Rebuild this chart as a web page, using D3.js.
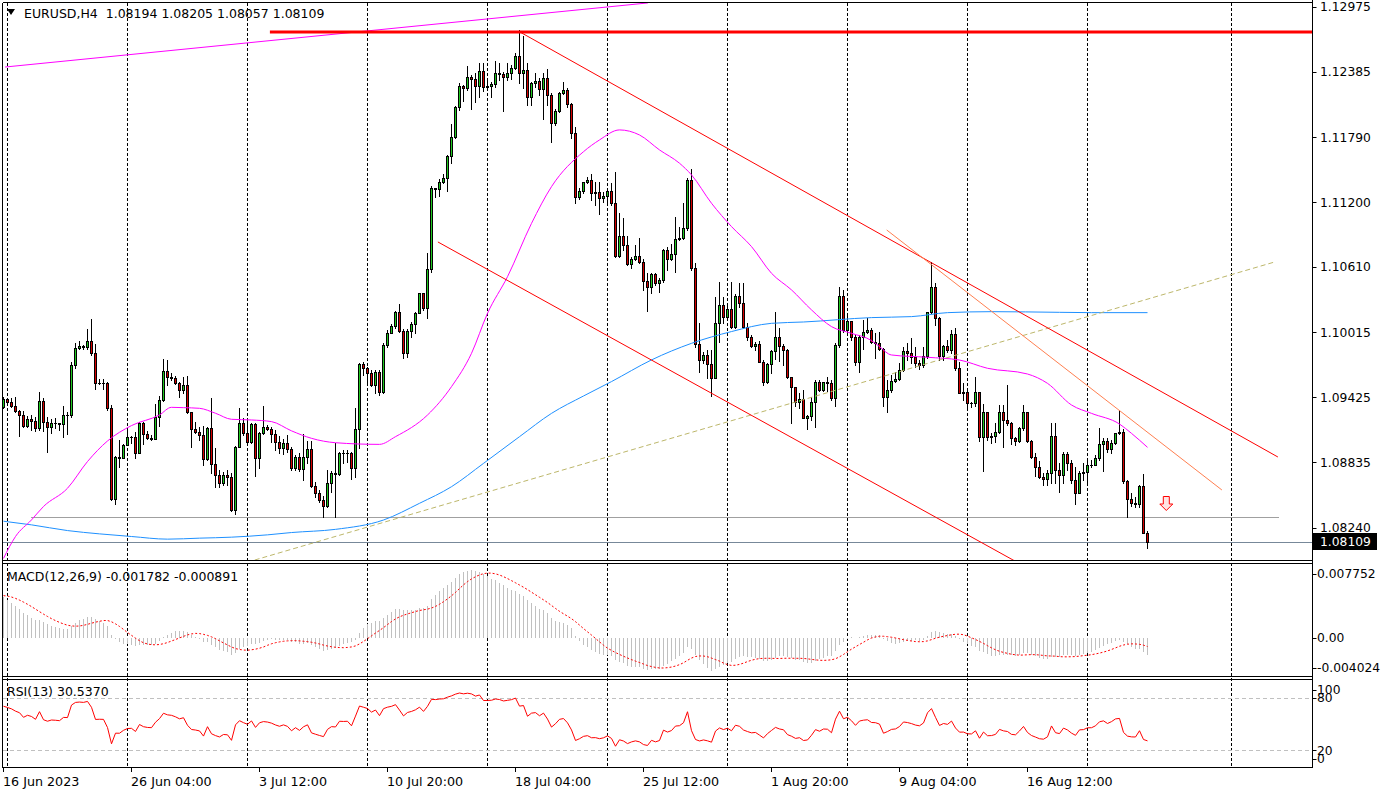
<!DOCTYPE html>
<html><head><meta charset="utf-8">
<script src="https://cdn.jsdelivr.net/npm/d3@7"></script>
<style>
body{margin:0;background:#fff}
svg{display:block}
text{font-family:'DejaVu Sans',sans-serif;fill:#000;white-space:pre}
</style></head>
<body><svg id="c" width="1384" height="795"></svg>
<script>
// ---------------- DATA ----------------
const symbolLabel = "EURUSD,H4";
const titleOHLC = ["1.08194","1.08205","1.08057","1.08109"];
const firstOpen = 1.09340;
const closes = [
1.09407,1.09380,1.09350,1.09301,1.09268,1.09168,1.09232,1.09207,1.09147,1.09392,
1.09198,1.09159,1.09195,1.09189,1.09180,1.09265,1.09262,1.09719,1.09871,1.09892,
1.09886,1.09937,1.09831,1.09553,1.09559,1.09556,1.09332,1.08498,1.08880,1.08877,
1.08990,1.09062,1.09068,1.08922,1.09189,1.09092,1.09059,1.09050,1.09250,1.09401,
1.09665,1.09613,1.09598,1.09553,1.09492,1.09534,1.09295,1.09134,1.09113,1.09080,
1.08862,1.09150,1.08819,1.08719,1.08644,1.08719,1.08704,1.08401,1.08977,1.09189,
1.09098,1.09022,1.09183,1.08871,1.09098,1.09159,1.09138,1.09092,1.09016,1.08962,
1.09013,1.08956,1.08779,1.08879,1.08770,1.08885,1.08952,1.08618,1.08552,1.08491,
1.08436,1.08649,1.08739,1.08727,1.08921,1.08915,1.08921,1.08785,1.09134,1.09728,
1.09689,1.09649,1.09537,1.09658,1.09476,1.09901,1.10013,1.10074,1.10204,1.10031,
1.09825,1.10028,1.10092,1.10195,1.10371,1.10234,1.10589,1.11326,1.11317,1.11386,
1.11417,1.11620,1.11796,1.12063,1.12260,1.12235,1.12336,1.12317,1.12260,1.12396,
1.12251,1.12257,1.12275,1.12378,1.12366,1.12336,1.12378,1.12423,1.12530,1.12372,
1.12402,1.12154,1.12281,1.12302,1.12226,1.12326,1.12175,1.11923,1.12032,1.12190,
1.12220,1.12090,1.11832,1.11244,1.11302,1.11380,1.11402,1.11287,1.11290,1.11235,
1.11257,1.11305,1.11190,1.10714,1.10893,1.10814,1.10638,1.10684,1.10711,1.10653,
1.10486,1.10426,1.10547,1.10462,1.10493,1.10765,1.10687,1.10729,1.10862,1.10872,
1.10962,1.11402,1.10599,1.09910,1.09765,1.09810,1.09728,1.09604,1.10098,1.10265,
1.10159,1.10226,1.10068,1.10347,1.10286,1.10068,1.09971,1.09892,1.09907,1.09750,
1.09568,1.09725,1.09847,1.09971,1.09895,1.09856,1.09607,1.09516,1.09386,1.09407,
1.09240,1.09255,1.09386,1.09562,1.09492,1.09562,1.09553,1.09416,1.09901,1.10347,
1.10038,1.10123,1.09971,1.09750,1.09971,1.10017,1.10038,1.09925,1.09916,1.09861,
1.09431,1.09492,1.09573,1.09589,1.09673,1.09846,1.09825,1.09789,1.09740,1.09716,
1.09801,1.10198,1.10425,1.10143,1.09804,1.09892,1.09855,1.09998,1.09689,1.09467,
1.09470,1.09376,1.09370,1.09470,1.09067,1.09288,1.09067,1.09073,1.09113,1.09288,
1.09219,1.09188,1.09052,1.09031,1.09143,1.09288,1.09031,1.08879,1.08794,1.08703,
1.08679,1.08740,1.09073,1.08764,1.08718,1.08909,1.08825,1.08673,1.08558,1.08740,
1.08749,1.08809,1.08812,1.08870,1.09000,1.09031,1.08955,1.09012,1.09097,1.09113,
1.08667,1.08497,1.08461,1.08455,1.08618,1.08194,1.08109];
const highs = [
1.09426,1.09416,1.09423,1.09425,1.09310,1.09304,1.09256,1.09268,1.09250,1.09471,
1.09416,1.09244,1.09225,1.09241,1.09195,1.09347,1.09295,1.09750,1.09916,1.09937,
1.09901,1.10044,1.10137,1.09907,1.09589,1.09589,1.09568,1.09356,1.08890,1.09038,
1.09000,1.09128,1.09077,1.09113,1.09204,1.09204,1.09122,1.09083,1.09362,1.09438,
1.09771,1.09765,1.09644,1.09622,1.09568,1.09613,1.09622,1.09295,1.09204,1.09159,
1.09165,1.09159,1.09422,1.08962,1.08765,1.08750,1.08765,1.08741,1.08983,1.09325,
1.09234,1.09234,1.09195,1.09189,1.09113,1.09347,1.09174,1.09159,1.09128,1.09074,
1.09044,1.09083,1.08976,1.08900,1.08915,1.09088,1.09031,1.09031,1.08658,1.08582,
1.08527,1.08764,1.08758,1.09012,1.08930,1.08946,1.08946,1.08930,1.09331,1.09740,
1.09749,1.09704,1.09673,1.09673,1.09673,1.09916,1.10037,1.10092,1.10213,1.10274,
1.10043,1.10043,1.10113,1.10204,1.10377,1.10377,1.10735,1.11350,1.11332,1.11408,
1.11456,1.11629,1.11911,1.12075,1.12287,1.12266,1.12439,1.12357,1.12372,1.12463,
1.12463,1.12317,1.12296,1.12487,1.12463,1.12387,1.12463,1.12448,1.12560,1.12766,
1.12711,1.12463,1.12296,1.12372,1.12326,1.12378,1.12408,1.12190,1.12044,1.12205,
1.12296,1.12235,1.12099,1.11887,1.11326,1.11386,1.11426,1.11457,1.11387,1.11387,
1.11296,1.11317,1.11378,1.11472,1.11099,1.11053,1.10893,1.10705,1.10811,1.10872,
1.10681,1.10553,1.10559,1.10559,1.10508,1.10775,1.10790,1.10820,1.11069,1.10978,
1.11190,1.11417,1.11499,1.10650,1.10104,1.09841,1.09856,1.09856,1.10341,1.10477,
1.10341,1.10265,1.10477,1.10362,1.10468,1.10462,1.10098,1.09992,1.09932,1.09938,
1.09765,1.09735,1.09856,1.10198,1.10059,1.09907,1.09862,1.09613,1.09522,1.09462,
1.09492,1.09265,1.09431,1.09583,1.09583,1.09568,1.09613,1.09583,1.09916,1.10432,
1.10402,1.10189,1.10114,1.09992,1.09992,1.10129,1.10144,1.10052,1.10007,1.10022,
1.09871,1.09583,1.09628,1.09658,1.09734,1.09886,1.09916,1.09962,1.09886,1.09764,
1.09886,1.10204,1.10659,1.10462,1.10159,1.09901,1.09946,1.10037,1.10052,1.09749,
1.09558,1.09507,1.09385,1.09613,1.09476,1.09364,1.09294,1.09097,1.09188,1.09355,
1.09355,1.09537,1.09204,1.09067,1.09158,1.09355,1.09294,1.09037,1.08916,1.08849,
1.08734,1.08764,1.09188,1.09188,1.08825,1.08931,1.08931,1.08855,1.08794,1.08758,
1.08825,1.08861,1.08855,1.08900,1.09143,1.09052,1.09052,1.09037,1.09103,1.09310,
1.09134,1.08673,1.08552,1.08521,1.08627,1.08728,1.08205];
const lows = [
1.09326,1.09365,1.09341,1.09295,1.09077,1.09159,1.09159,1.09129,1.09119,1.09129,
1.09122,1.08932,1.09098,1.09144,1.09129,1.09062,1.09089,1.09250,1.09689,1.09862,
1.09868,1.09868,1.09810,1.09498,1.09547,1.09498,1.09310,1.08492,1.08453,1.08795,
1.08871,1.08990,1.09007,1.08877,1.08916,1.09001,1.09050,1.09038,1.09044,1.09165,
1.09395,1.09538,1.09583,1.09544,1.09432,1.09462,1.09280,1.08977,1.09098,1.09038,
1.08807,1.08856,1.08740,1.08613,1.08607,1.08628,1.08628,1.08395,1.08368,1.08977,
1.09083,1.08992,1.09013,1.08713,1.08780,1.09092,1.09129,1.09022,1.08947,1.08916,
1.08910,1.08932,1.08764,1.08764,1.08758,1.08673,1.08824,1.08612,1.08521,1.08476,
1.08339,1.08430,1.08567,1.08339,1.08718,1.08830,1.08839,1.08679,1.08703,1.08961,
1.09628,1.09558,1.09528,1.09461,1.09446,1.09467,1.09880,1.10007,1.10052,1.10022,
1.09780,1.09789,1.09977,1.10007,1.10189,1.10219,1.10143,1.10568,1.11250,1.11256,
1.11371,1.11305,1.11559,1.11781,1.12038,1.12123,1.12220,1.12044,1.12108,1.12160,
1.12214,1.12235,1.12154,1.12251,1.12311,1.12032,1.12311,1.12317,1.12408,1.12281,
1.12235,1.12084,1.12084,1.12251,1.12175,1.11953,1.12084,1.11750,1.11902,1.12023,
1.12184,1.12069,1.11781,1.11189,1.11226,1.11280,1.11372,1.11220,1.11175,1.11093,
1.11205,1.11196,1.11175,1.10705,1.10705,1.10765,1.10629,1.10599,1.10674,1.10644,
1.10402,1.10214,1.10371,1.10447,1.10386,1.10477,1.10583,1.10674,1.10568,1.10856,
1.10862,1.10947,1.10583,1.09886,1.09659,1.09735,1.09598,1.09437,1.09598,1.09932,
1.10098,1.10150,1.10059,1.10053,1.10250,1.10053,1.09947,1.09886,1.09856,1.09744,
1.09537,1.09553,1.09650,1.09771,1.09759,1.09719,1.09598,1.09189,1.09346,1.09325,
1.09234,1.09134,1.09219,1.09158,1.09486,1.09486,1.09486,1.09401,1.09346,1.09886,
1.10023,1.10023,1.09947,1.09719,1.09659,1.09862,1.10007,1.09916,1.09780,1.09855,
1.09346,1.09294,1.09476,1.09567,1.09583,1.09667,1.09764,1.09734,1.09704,1.09680,
1.09704,1.09780,1.10189,1.10083,1.09764,1.09764,1.09840,1.09825,1.09673,1.09461,
1.09401,1.09340,1.09340,1.09346,1.09031,1.08758,1.09037,1.09012,1.09022,1.09097,
1.08976,1.09173,1.09000,1.08991,1.09022,1.09128,1.09022,1.08870,1.08709,1.08688,
1.08627,1.08627,1.08643,1.08643,1.08567,1.08643,1.08764,1.08643,1.08455,1.08552,
1.08673,1.08643,1.08794,1.08809,1.08855,1.08758,1.08931,1.08916,1.09000,1.09091,
1.08643,1.08339,1.08436,1.08430,1.08430,1.08188,1.08057];

// moving averages (bar index -> value)
const maFastBars = [0,3,7,10,16,21,26,32,39,42,45,49,53,57,62,67,72,77,83,94,98,106,112,117,121,126,132,137,145,149,154,159,164,169,172,177,182,187,192,197,202,207,212,217,219,222,231,239,246,256,261,267,272,279,282,286];
const maFastVals = [1.07960,1.08159,1.08310,1.08432,1.08598,1.08841,1.09028,1.09168,1.09265,1.09334,1.09331,1.09325,1.09280,1.09225,1.09219,1.09204,1.09120,1.09052,1.09012,1.08997,1.09067,1.09264,1.09522,1.09825,1.10189,1.10522,1.11007,1.11341,1.11659,1.11766,1.11857,1.11811,1.11675,1.11554,1.11448,1.11190,1.10978,1.10796,1.10553,1.10402,1.10220,1.10068,1.10007,1.09941,1.09886,1.09810,1.09789,1.09764,1.09689,1.09637,1.09552,1.09355,1.09279,1.09182,1.09097,1.08970];
const maSlowBars = [0,7,16,24,32,41,49,57,66,72,83,95,104,112,120,129,137,145,152,162,172,182,192,200,217,227,236,247,264,272,286];
const maSlowVals = [1.08298,1.08265,1.08213,1.08183,1.08159,1.08135,1.08144,1.08153,1.08174,1.08195,1.08224,1.08309,1.08461,1.08612,1.08824,1.09067,1.09279,1.09437,1.09568,1.09765,1.09916,1.10023,1.10098,1.10110,1.10150,1.10159,1.10195,1.10204,1.10198,1.10195,1.10195];

// objects: [barIndex, price]
const trendMagenta = [[0.4,1.12429],[161.1,1.13012]];
const channelUpper = [[129.1,1.12748],[318.6,1.08882]];
const channelLower = [[108.6,1.10838],[252.8,1.07937]];
const trendOrange  = [[220.8,1.10947],[304.6,1.08582]];
const trendTan     = [[62.8,1.07945],[317.8,1.10656]];
const resistance   = {fromBar:66.6, price:1.12748};
const grayLevel    = {fromBar:6.9, toBar:318.8, price:1.08337};
const sellArrow    = {bar:290.7, price:1.08527};

const priceTicks = [1.12975,1.12385,1.11790,1.11200,1.10610,1.10015,1.09425,1.08835,1.08240];
const lastPrice = 1.08109;
const gridBars = [1,31,61,91,121,151,181,211,241,271,307];
const timeBars = [0,32,64,96,128,160,192,224,256];
const timeLabels = ["16 Jun 2023","26 Jun 04:00","3 Jul 12:00","10 Jul 20:00","18 Jul 04:00","25 Jul 12:00","1 Aug 20:00","9 Aug 04:00","16 Aug 12:00"];

const macdTicks = [0.007752,0,-0.004024];
const macdTickLabels = ["0.007752","0.00","-0.004024"];
const macdLegend = "MACD(12,26,9) -0.001782 -0.000891";
const macdSeedEma12 = 1.0935, macdSeedEma26 = 1.0889;
const macdSeedPrevMain = [0.0044,0.0046,0.0047,0.0047,0.0046,0.0045,0.0044,0.0043];
const rsiTicks = [100,80,20,0];
const rsiLevels = [80,20];
const rsiLegend = "RSI(13) 30.5370";
const rsiSeedGain = 0.00080, rsiSeedLoss = 0.00036;

// ---------------- DERIVED ----------------
const opens = closes.map((c,i)=> i===0 ? firstOpen : closes[i-1]);
let e12 = macdSeedEma12, e26 = macdSeedEma26;
const macdMain = closes.map(c=>{ e12 += (2/13)*(c-e12); e26 += (2/27)*(c-e26); return e12-e26; });
const macdAll = macdSeedPrevMain.concat(macdMain);
const macdSignal = macdMain.map((m,i)=> d3.mean(macdAll.slice(i,i+9)));
let ag = rsiSeedGain, al = rsiSeedLoss;
const rsi = closes.map((c,i)=>{ const d = c-(i?closes[i-1]:firstOpen);
  ag = (ag*12+Math.max(d,0))/13; al = (al*12+Math.max(-d,0))/13; return 100-100/(1+ag/al); });

// ---------------- LAYOUT ----------------
const svg = d3.select('#c');
const L = 2.5, R = 1312.5;
const mainTop = 2.5, mainBot = 560.5, macdTop = 563.5, macdBot = 676.5, rsiTop = 679.5, rsiBot = 767.5;
const n = closes.length;
const x = d3.scaleLinear().domain([0,n-1]).range([3.5, 3.5+4*(n-1)]);
const y = d3.scaleLinear().domain([lastPrice, priceTicks[0]]).range([542,7]);
const ym = d3.scaleLinear().domain([macdTicks[2], macdTicks[0]]).range([676,565]);
const yr = d3.scaleLinear().domain([0,100]).range([767.5,680.5]);

const defs = svg.append('defs');
function clip(id,y0,y1){ defs.append('clipPath').attr('id',id).append('rect').attr('x',L+0.5).attr('y',y0).attr('width',R-L-1).attr('height',y1-y0); }
clip('cMain',mainTop+0.5,mainBot);
clip('cMacd',macdTop+0.5,macdBot);
clip('cRsi',rsiTop+0.5,rsiBot);

// grid
svg.append('g').selectAll('line').data(gridBars).join('line')
  .attr('x1',d=>x(d)).attr('x2',d=>x(d)).attr('y1',mainTop).attr('y2',rsiBot)
  .attr('stroke','#000').attr('stroke-dasharray','3,2').attr('shape-rendering','crispEdges');

// main panel
const gm = svg.append('g').attr('clip-path','url(#cMain)');
const line2 = d3.line().x(d=>x(d[0])).y(d=>y(d[1]));
// horizontal levels
gm.append('line').attr('x1',x(grayLevel.fromBar)).attr('x2',x(grayLevel.toBar))
  .attr('y1',Math.round(y(grayLevel.price))+0.5).attr('y2',Math.round(y(grayLevel.price))+0.5)
  .attr('stroke','#a0a0a0').attr('shape-rendering','crispEdges');
gm.append('line').attr('x1',L).attr('x2',R)
  .attr('y1',Math.round(y(lastPrice))+0.5).attr('y2',Math.round(y(lastPrice))+0.5)
  .attr('stroke','#778899').attr('shape-rendering','crispEdges');

// candles
const gc = gm.append('g').attr('shape-rendering','crispEdges');
const cd = closes.map((c,i)=>({i,o:opens[i],c,h:Math.max(highs[i],opens[i],c),l:Math.min(lows[i],opens[i],c)}));
gc.selectAll('rect.w').data(cd).join('rect').attr('class','w')
  .attr('x',d=>x(d.i)-0.5).attr('width',1)
  .attr('y',d=>Math.round(y(d.h))).attr('height',d=>Math.max(1,Math.round(y(d.l))-Math.round(y(d.h))+1))
  .attr('fill','#000');
const bt = d=>Math.round(y(Math.max(d.o,d.c))), bh = d=>Math.max(1,Math.round(y(Math.min(d.o,d.c)))-bt(d)+1);
gc.selectAll('rect.b').data(cd).join('rect').attr('class','b')
  .attr('x',d=>x(d.i)-1.5).attr('width',3).attr('y',bt).attr('height',bh).attr('fill','#000');
gc.selectAll('rect.f').data(cd.filter(d=>bh(d)>2)).join('rect').attr('class','f')
  .attr('x',d=>x(d.i)-0.5).attr('width',1).attr('y',d=>bt(d)+1).attr('height',d=>bh(d)-2)
  .attr('fill',d=>d.c>=d.o?'#20c820':'#d40000');

// moving averages
const maLine = d3.line().x(d=>x(d[0])).y(d=>y(d[1])).curve(d3.curveMonotoneX);
gm.append('path').attr('d',maLine(maSlowBars.map((b,i)=>[b,maSlowVals[i]]))).attr('fill','none').attr('stroke','#1e90ff').attr('stroke-width',1);
gm.append('path').attr('d',maLine(maFastBars.map((b,i)=>[b,maFastVals[i]]))).attr('fill','none').attr('stroke','#ff00ff').attr('stroke-width',1);

// trend objects
gm.append('path').attr('d',line2(trendTan)).attr('fill','none').attr('stroke','#bdb76b').attr('stroke-dasharray','5,3');
gm.append('path').attr('d',line2(trendMagenta)).attr('fill','none').attr('stroke','#ff00ff');
gm.append('path').attr('d',line2(channelLower)).attr('fill','none').attr('stroke','#ff0000');
gm.append('path').attr('d',line2(channelUpper)).attr('fill','none').attr('stroke','#ff0000');
gm.append('path').attr('d',line2(trendOrange)).attr('fill','none').attr('stroke','#ff7f50');
gm.append('line').attr('x1',x(resistance.fromBar)).attr('x2',R).attr('y1',y(resistance.price)).attr('y2',y(resistance.price))
  .attr('stroke','#ff0000').attr('stroke-width',3);
// sell arrow
gm.append('path').attr('transform',`translate(${x(sellArrow.bar)},${Math.round(y(sellArrow.price))+0.5})`)
  .attr('d','M-3,0L3,0L3,7.5L6.5,7.5L0,14L-6.5,7.5L-3,7.5Z').attr('fill','#ffe4e4').attr('stroke','#ff0000');

// MACD panel
const gmc = svg.append('g').attr('clip-path','url(#cMacd)');
gmc.append('g').attr('shape-rendering','crispEdges').selectAll('rect').data(macdMain).join('rect')
  .attr('x',(d,i)=>x(i)-0.5).attr('width',1)
  .attr('y',d=>Math.min(ym(0),ym(d))).attr('height',d=>Math.abs(ym(d)-ym(0)))
  .attr('fill','#c0c0c0');
gmc.append('path').attr('d',d3.line().x((d,i)=>x(i)).y(d=>ym(d))(macdSignal))
  .attr('fill','none').attr('stroke','#ff0000').attr('stroke-dasharray','2,2');

// RSI panel
const gr = svg.append('g').attr('clip-path','url(#cRsi)');
gr.selectAll('line').data(rsiLevels).join('line').attr('x1',L).attr('x2',R)
  .attr('y1',d=>Math.round(yr(d))+0.5).attr('y2',d=>Math.round(yr(d))+0.5)
  .attr('stroke','#c0c0c0').attr('stroke-dasharray','4,3').attr('shape-rendering','crispEdges');
gr.append('path').attr('d',d3.line().x((d,i)=>x(i)).y(d=>yr(d))(rsi)).attr('fill','none').attr('stroke','#ff0000');

// frames
const fr = svg.append('g').attr('stroke','#000').attr('shape-rendering','crispEdges');
[mainTop,mainBot,macdTop,macdBot,rsiTop,rsiBot].forEach(v=>fr.append('line').attr('x1',L).attr('x2',R).attr('y1',v).attr('y2',v));
fr.append('line').attr('x1',L).attr('x2',L).attr('y1',mainTop).attr('y2',rsiBot);
fr.append('line').attr('x1',R).attr('x2',R).attr('y1',0).attr('y2',rsiBot);

// right axis: price
const ax = svg.append('g');
ax.selectAll('line.p').data(priceTicks).join('line').attr('class','p')
  .attr('x1',R).attr('x2',R+4).attr('y1',d=>Math.round(y(d))+0.5).attr('y2',d=>Math.round(y(d))+0.5).attr('stroke','#000');
ax.selectAll('text.p').data(priceTicks).join('text').attr('class','p')
  .attr('x',1320).attr('y',d=>y(d)).attr('dy','0.36em').attr('font-size','12.3px').text(d=>d.toFixed(5));
ax.append('rect').attr('x',1313).attr('y',Math.round(y(lastPrice))-9).attr('width',64).attr('height',17).attr('fill','#000');
ax.append('text').attr('x',1320).attr('y',y(lastPrice)).attr('dy','0.36em').attr('font-size','12.3px').style('fill','#fff').text(lastPrice.toFixed(5));

// right axis: MACD and RSI
const clampY=(v,a,b)=>Math.max(a,Math.min(b,v));
macdTicks.forEach((t,i)=>{ const yy = clampY(ym(t),macdTop+10,macdBot-9);
  ax.append('line').attr('x1',R).attr('x2',R+4).attr('y1',Math.round(yy)+0.5).attr('y2',Math.round(yy)+0.5).attr('stroke','#000');
  ax.append('text').attr('x',1317).attr('y',yy).attr('dy','0.36em').attr('font-size','12.3px').text(macdTickLabels[i]); });
rsiTicks.forEach(t=>{ const yy = clampY(yr(t),rsiTop+10,rsiBot-9);
  ax.append('line').attr('x1',R).attr('x2',R+4).attr('y1',Math.round(yy)+0.5).attr('y2',Math.round(yy)+0.5).attr('stroke','#000');
  ax.append('text').attr('x',1317).attr('y',yy).attr('dy','0.36em').attr('font-size','12.3px').text(String(t)); });

// time axis
const ta = svg.append('g');
ta.selectAll('line').data(timeBars).join('line').attr('x1',d=>x(d)).attr('x2',d=>x(d)).attr('y1',rsiBot).attr('y2',rsiBot+4).attr('stroke','#000').attr('shape-rendering','crispEdges');
ta.selectAll('text').data(timeBars).join('text').attr('x',d=>x(d)-0.5).attr('y',786).attr('font-size','12.7px').text((d,i)=>timeLabels[i]);

// legends
svg.append('path').attr('d','M7,9L15,9L11,15Z').attr('fill','#000');
svg.append('text').attr('x',24).attr('y',18).attr('font-size','12.5px').text(symbolLabel+'  '+titleOHLC.join(' '));
svg.append('text').attr('x',7).attr('y',581).attr('font-size','12.5px').text(macdLegend);
svg.append('text').attr('x',7).attr('y',696).attr('font-size','12.5px').text(rsiLegend);
</script>
</body></html>
